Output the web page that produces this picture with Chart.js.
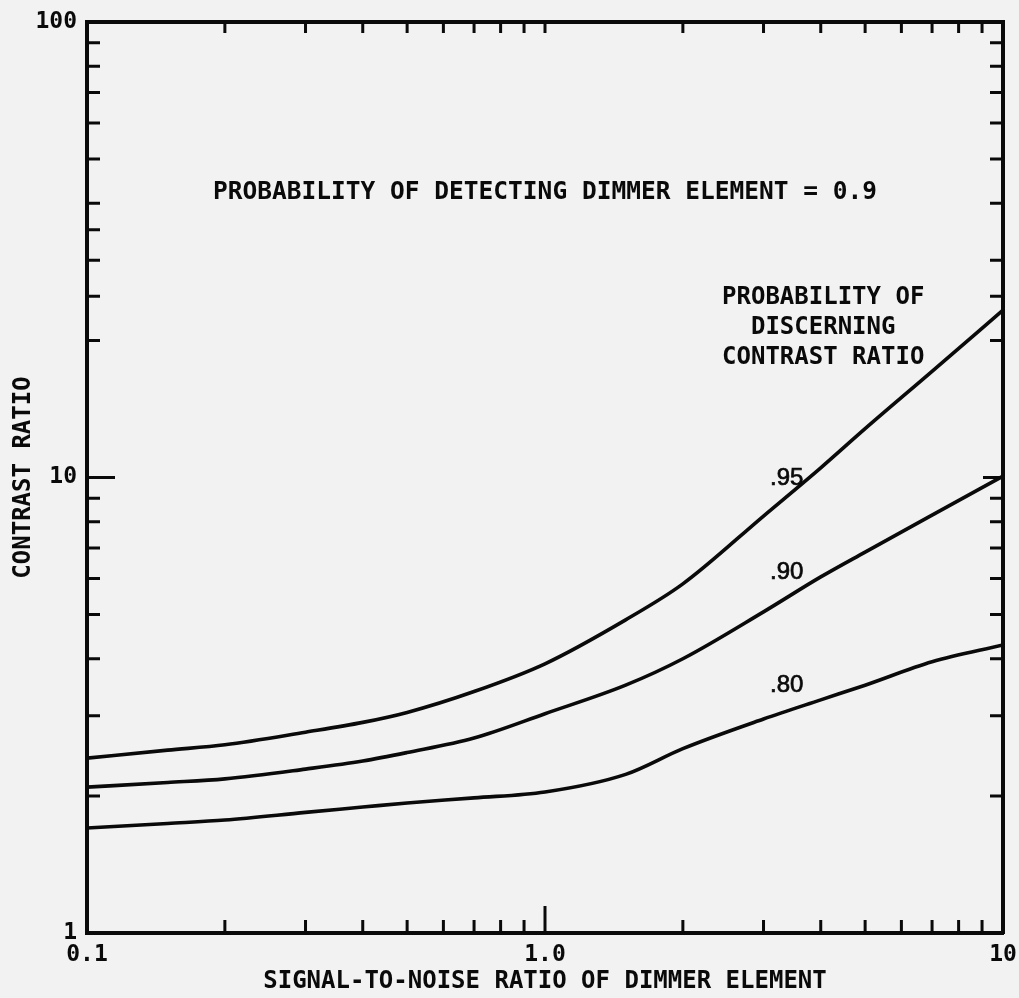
<!DOCTYPE html>
<html><head><meta charset="utf-8">
<script src="https://cdn.jsdelivr.net/npm/chart.js@4"></script>
<style>html,body{margin:0;padding:0;background:#f2f2f2;} canvas{display:block;}</style>
</head><body>
<canvas id="c" width="1019" height="998"></canvas>
<script>
// ---- data ----
const snr        = [0.1, 0.15, 0.2, 0.3, 0.4, 0.5, 0.7, 1.0, 1.5, 2, 3, 4, 5, 7, 10];
const contrast95 = [2.42, 2.52, 2.59, 2.76, 2.90, 3.05, 3.39, 3.90, 4.87, 5.84, 8.23, 10.5, 12.8, 17.1, 23.3];
const contrast90 = [2.09, 2.14, 2.18, 2.29, 2.385, 2.49, 2.68, 3.03, 3.50, 4.00, 5.07, 6.05, 6.86, 8.27, 10.07];
const contrast80 = [1.70, 1.74, 1.77, 1.84, 1.89, 1.93, 1.98, 2.04, 2.23, 2.54, 2.95, 3.25, 3.50, 3.94, 4.29];
const curveLabels = ['.95', '.90', '.80'];
const xTickValues = [0.1, 1, 10];
const xTickLabels = ['0.1', '1.0', '10'];
const yTickValues = [1, 10, 100];
const yTickLabels = ['1', '10', '100'];
const xMinorTicks = [0.2, 0.3, 0.4, 0.5, 0.6, 0.7, 0.8, 0.9, 2, 3, 4, 5, 6, 7, 8, 9];
const xMajorTicks = [1];
const yLeftMinorTicks  = [2, 3, 4, 5, 6, 7, 8, 9, 20, 25, 30, 35, 40, 50, 60, 70, 80, 90];
const yRightMinorTicks = [2, 3, 4, 5, 6, 7, 8, 9, 20, 25, 30, 40, 50, 60, 70, 80, 90];
const yMajorTicks = [10];
const xTitle = 'SIGNAL-TO-NOISE RATIO OF DIMMER ELEMENT';
const yTitle = 'CONTRAST RATIO';
const mainNote = 'PROBABILITY OF DETECTING DIMMER ELEMENT = 0.9';
const legendNote = ['PROBABILITY OF', 'DISCERNING', 'CONTRAST RATIO'];

const INK = '#0a0a0a';
const MONO = '"DejaVu Sans Mono", monospace';

const pts = arr => snr.map((x, i) => ({x, y: arr[i]}));
const lineDs = arr => ({
  data: pts(arr), borderColor: INK, borderWidth: 3.6, pointRadius: 0,
  fill: false, cubicInterpolationMode: 'monotone'
});

const bgPlugin = {
  id: 'bg',
  beforeDraw(chart) {
    const c = chart.ctx; c.save(); c.fillStyle = '#f2f2f2';
    c.fillRect(0, 0, chart.width, chart.height); c.restore();
  }
};

const tickPlugin = {
  id: 'inTicks',
  afterDraw(chart) {
    const {ctx, chartArea: a, scales: {x, y}} = chart;
    ctx.save(); ctx.strokeStyle = INK; ctx.lineWidth = 3; ctx.beginPath();
    const seg = (x1, y1, x2, y2) => { ctx.moveTo(x1, y1); ctx.lineTo(x2, y2); };
    xMinorTicks.forEach(v => { const p = x.getPixelForValue(v); seg(p, a.bottom, p, a.bottom - 13); seg(p, a.top, p, a.top + 11); });
    xMajorTicks.forEach(v => { const p = x.getPixelForValue(v); seg(p, a.bottom, p, a.bottom - 27); seg(p, a.top, p, a.top + 11); });
    yLeftMinorTicks.forEach(v => { const p = y.getPixelForValue(v); seg(a.left, p, a.left + 13, p); });
    yRightMinorTicks.forEach(v => { const p = y.getPixelForValue(v); seg(a.right, p, a.right - 13, p); });
    yMajorTicks.forEach(v => { const p = y.getPixelForValue(v); seg(a.left, p, a.left + 28, p); seg(a.right, p, a.right - 20, p); });
    ctx.stroke(); ctx.restore();
  }
};

const textPlugin = {
  id: 'notes',
  afterDraw(chart) {
    const {ctx, scales: {x, y}} = chart;
    ctx.save(); ctx.fillStyle = INK; ctx.strokeStyle = INK; ctx.textAlign = 'center'; ctx.textBaseline = 'middle';
    ctx.font = 'bold 24.5px ' + MONO;
    ctx.fillText(mainNote, x.getPixelForValue(1.0), y.getPixelForValue(42.1));
    ctx.font = 'bold 24px ' + MONO;
    const lx = x.getPixelForValue(4.05);
    [24.8, 21.3, 18.3].forEach((v, i) => ctx.fillText(legendNote[i], lx, y.getPixelForValue(v)));
    ctx.font = '24px "Liberation Sans", Arial, sans-serif';
    ctx.lineWidth = 0.7;
    const cx = x.getPixelForValue(3.37);
    [9.97, 6.2, 3.5].forEach((v, i) => {
      const py = y.getPixelForValue(v);
      ctx.fillText(curveLabels[i], cx, py); ctx.strokeText(curveLabels[i], cx, py);
    });
    ctx.restore();
  }
};

const border = {display: true, color: INK, width: 4};
const tickFont = {family: MONO, size: 23, weight: 'bold'};
const titleFont = {family: MONO, size: 24, weight: 'bold'};
const noPadH = s => { s.paddingLeft = 0; s.paddingRight = 0; };
const noPadV = s => { s.paddingTop = 0; s.paddingBottom = 0; };

new Chart(document.getElementById('c'), {
  type: 'line',
  data: { datasets: [lineDs(contrast95), lineDs(contrast90), lineDs(contrast80)] },
  options: {
    responsive: false, animation: false,
    layout: {padding: 0},
    plugins: {legend: {display: false}, tooltip: {enabled: false}},
    scales: {
      x: {
        type: 'logarithmic', position: 'bottom', min: 0.1, max: 10,
        afterBuildTicks: s => { s.ticks = xTickValues.map(v => ({value: v})); },
        afterFit: s => { s.height = 65; noPadH(s); },
        grid: {display: false, drawTicks: false}, border,
        ticks: {autoSkip: false, maxRotation: 0, padding: 8, color: INK, font: tickFont,
                callback: (v, i) => xTickLabels[i]},
        title: {display: true, text: xTitle, color: INK, font: titleFont, padding: {top: 0, bottom: 2}}
      },
      x2: {
        type: 'logarithmic', position: 'top', min: 0.1, max: 10,
        afterFit: s => { s.height = 22; noPadH(s); },
        grid: {display: false, drawTicks: false}, border, ticks: {display: false}
      },
      y: {
        type: 'logarithmic', position: 'left', min: 1, max: 100,
        afterBuildTicks: s => { s.ticks = yTickValues.map(v => ({value: v})); },
        afterFit: s => { s.width = 87; noPadV(s); },
        grid: {display: false, drawTicks: false}, border,
        ticks: {autoSkip: false, padding: 10, color: INK, font: tickFont,
                callback: (v, i) => yTickLabels[i]},
        title: {display: true, text: yTitle, color: INK, font: titleFont, padding: {top: 9, bottom: 0}}
      },
      y2: {
        type: 'logarithmic', position: 'right', min: 1, max: 100,
        afterFit: s => { s.width = 16; noPadV(s); },
        grid: {display: false, drawTicks: false}, border, ticks: {display: false}
      }
    }
  },
  plugins: [bgPlugin, tickPlugin, textPlugin]
});
</script>
</body></html>
